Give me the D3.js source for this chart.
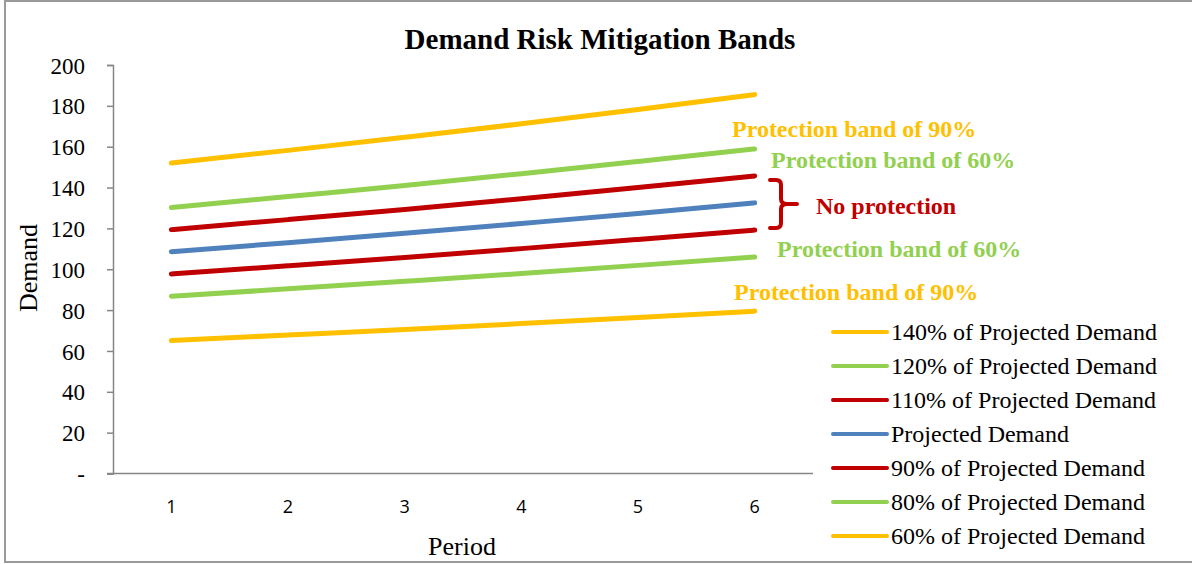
<!DOCTYPE html>
<html>
<head>
<meta charset="utf-8">
<script src="https://cdn.jsdelivr.net/npm/d3@7"></script>
<style>
  body { margin: 0; background: #fff; }
  svg text { font-family: "Liberation Serif", "Times New Roman", serif; }
</style>
</head>
<body>
<div class="chart"></div>
<script>
const width = 1192
const height = 564

const periods = [1, 2, 3, 4, 5, 6]

const demand140 = [152.0, 158.2, 164.6, 171.2, 178.2, 185.5]
const demand120 = [130.2, 135.6, 141.0, 146.8, 152.8, 158.9]
const demand110 = [119.4, 124.3, 129.3, 134.5, 140.0, 145.7]
const projected = [108.6, 113.0, 117.6, 122.4, 127.3, 132.5]
const demand90 = [97.7, 101.7, 105.8, 110.1, 114.6, 119.2]
const demand80 = [86.8, 90.4, 94.1, 97.9, 101.9, 106.0]
const demand60 = [65.1, 67.8, 70.5, 73.4, 76.4, 79.5]

const seriesNames = [
    '140% of Projected Demand',
    '120% of Projected Demand',
    '110% of Projected Demand',
    'Projected Demand',
    '90% of Projected Demand',
    '80% of Projected Demand',
    '60% of Projected Demand'
]
const seriesValues = [demand140, demand120, demand110, projected, demand90, demand80, demand60]
const seriesColors = ['#FFC000', '#92D050', '#C00000', '#4F81BD', '#C00000', '#92D050', '#FFC000']

const yTicks = [0, 20, 40, 60, 80, 100, 120, 140, 160, 180, 200]

// band notes next to the right end of the lines
const annotations = [
    { text: 'Protection band of 90%', color: '#FFC000', x: 732, y: 137 },
    { text: 'Protection band of 60%', color: '#92D050', x: 771, y: 168 },
    { text: 'No protection', color: '#C00000', x: 816, y: 214 },
    { text: 'Protection band of 60%', color: '#92D050', x: 777, y: 257 },
    { text: 'Protection band of 90%', color: '#FFC000', x: 734, y: 300 }
]

const plot = { left: 113, right: 813, top: 65, bottom: 473.5 }

const svg = d3.select('.chart')
    .append('svg')
    .attr('width', width)
    .attr('height', height)

// outer frame
svg.append('rect')
    .attr('x', 5).attr('y', 1)
    .attr('width', width + 10).attr('height', 561)
    .attr('fill', 'none')
    .attr('stroke', '#9a9a9a')
    .attr('stroke-width', 2)

const xScale = d3.scaleBand()
    .domain(periods)
    .range([plot.left, plot.right])

const yScale = d3.scaleLinear()
    .domain([0, 200])
    .range([plot.bottom, plot.top])

// y axis
const yAxis = d3.axisLeft(yScale)
    .tickValues(yTicks)
    .tickSize(6)
    .tickPadding(22)
    .tickFormat(d => d === 0 ? '-' : d)

const gy = svg.append('g')
    .attr('transform', `translate(${plot.left},0)`)
    .call(yAxis)
gy.select('.domain').attr('stroke', '#868686').attr('stroke-width', 1.5)
gy.selectAll('.tick line').attr('stroke', '#868686').attr('stroke-width', 1.5)
gy.selectAll('.tick text')
    .attr('fill', '#000')
    .style('font-family', '"Liberation Serif", serif')
    .style('font-size', '23px')
    .attr('dy', '0.35em')

// x axis
const xAxis = d3.axisBottom(xScale).tickSize(0).tickPadding(27)
const gx = svg.append('g')
    .attr('transform', `translate(0,${plot.bottom})`)
    .call(xAxis)
gx.select('.domain').remove()
gx.append('line')
    .attr('x1', plot.left - 6).attr('x2', plot.right)
    .attr('stroke', '#868686').attr('stroke-width', 1.5)
gx.selectAll('.tick text')
    .attr('fill', '#000')
    .style('font-family', '"Open Sans", "Liberation Sans", sans-serif')
    .style('font-size', '18px')

// lines
const line = d3.line()
    .x((d, i) => xScale(periods[i]) + xScale.bandwidth() / 2)
    .y(d => yScale(d))
    .curve(d3.curveMonotoneX)

svg.selectAll('.series')
    .data(seriesValues)
    .enter()
    .append('path')
    .attr('class', 'series')
    .attr('d', line)
    .attr('fill', 'none')
    .attr('stroke', (d, i) => seriesColors[i])
    .attr('stroke-width', 5)
    .attr('stroke-linecap', 'round')

// title
svg.append('text')
    .attr('x', 600).attr('y', 49)
    .attr('text-anchor', 'middle')
    .style('font-size', '29px')
    .style('font-weight', 'bold')
    .text('Demand Risk Mitigation Bands')

// axis titles
svg.append('text')
    .attr('transform', 'translate(37,268) rotate(-90)')
    .attr('text-anchor', 'middle')
    .style('font-size', '26px')
    .text('Demand')

svg.append('text')
    .attr('x', 462).attr('y', 555)
    .attr('text-anchor', 'middle')
    .style('font-size', '26px')
    .text('Period')

// annotations
svg.selectAll('.note')
    .data(annotations)
    .enter()
    .append('text')
    .attr('class', 'note')
    .attr('x', d => d.x)
    .attr('y', d => d.y)
    .attr('fill', d => d.color)
    .style('font-size', '24px')
    .style('font-weight', 'bold')
    .text(d => d.text)

// curly bracket between the 110% and 90% lines at period 6
const bx = 770
const bTop = yScale(demand110[5]) + 4
const bBot = yScale(demand90[5]) - 2
const bMid = (bTop + bBot) / 2
svg.append('path')
    .attr('d', `M${bx},${bTop} L${bx + 6},${bTop} Q${bx + 11},${bTop} ${bx + 11},${bTop + 5}
        L${bx + 11},${bMid - 5} Q${bx + 11},${bMid} ${bx + 17},${bMid} L${bx + 27},${bMid}
        M${bx + 17},${bMid} Q${bx + 11},${bMid} ${bx + 11},${bMid + 5}
        L${bx + 11},${bBot - 5} Q${bx + 11},${bBot} ${bx + 6},${bBot} L${bx},${bBot}`)
    .attr('fill', 'none')
    .attr('stroke', '#C00000')
    .attr('stroke-width', 4)
    .attr('stroke-linecap', 'round')

// legend
const legend = svg.selectAll('.legend')
    .data(seriesNames)
    .enter()
    .append('g')
    .attr('class', 'legend')
    .attr('transform', (d, i) => `translate(833,${332 + i * 34})`)

legend.append('line')
    .attr('x1', 0).attr('x2', 54)
    .attr('stroke', (d, i) => seriesColors[i])
    .attr('stroke-width', 4)
    .attr('stroke-linecap', 'round')

legend.append('text')
    .attr('x', 58)
    .attr('dy', '0.35em')
    .style('font-size', '24px')
    .text(d => d)
</script>
</body>
</html>
